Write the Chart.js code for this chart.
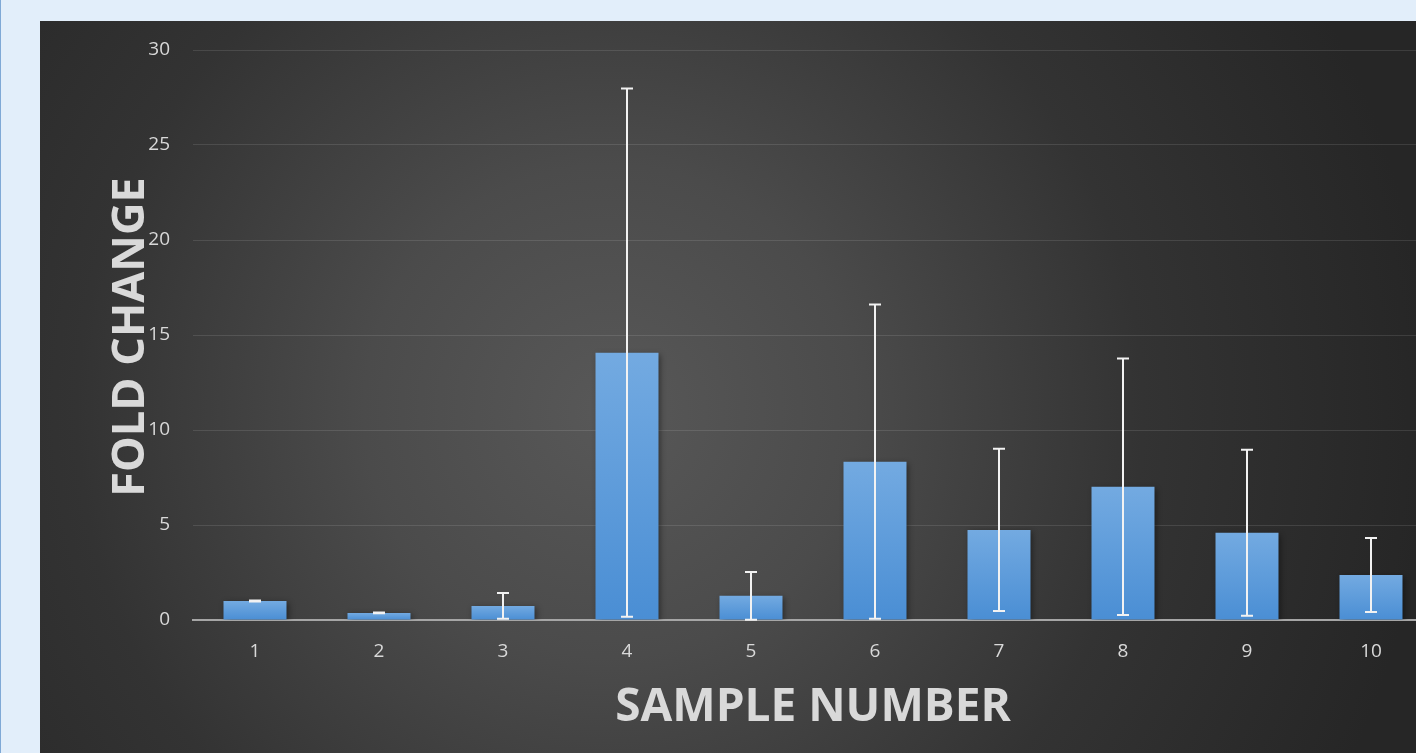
<!DOCTYPE html>
<html>
<head>
<meta charset="utf-8">
<script src="https://cdn.jsdelivr.net/npm/chart.js@4/dist/chart.umd.min.js"></script>
<style>
  html, body { margin: 0; padding: 0; width: 1416px; height: 753px; overflow: hidden; }
  body { background: #e2eefa; border-left: 1px solid #7fa9d6; box-sizing: border-box; position: relative; }
  #panel {
    position: absolute; left: 39px; top: 21px; width: 1400px; height: 732px;
    background: radial-gradient(circle 820px at 570px 390px, #585858 0%, #4b4b4b 30%, #333333 65%, #262626 100%);
  }
  #panel canvas { display: block; }
</style>
</head>
<body>
<div id="panel"><canvas id="c" width="1400" height="732"></canvas></div>
<script>
const categories = ['1', '2', '3', '4', '5', '6', '7', '8', '9', '10'];
const foldChange = [1.0, 0.37, 0.74, 14.07, 1.27, 8.33, 4.74, 7.01, 4.59, 2.37];
const errorValues = [0.03, 0.02, 0.68, 13.9, 1.26, 8.27, 4.27, 6.75, 4.37, 1.95];
const yMin = 0, yMax = 30, yStep = 5;
const xTitle = 'SAMPLE NUMBER';
const yTitle = 'FOLD CHANGE';

const TEXT = '#d9d9d9';
const FONT = "'Open Sans', 'DejaVu Sans', sans-serif";

const shadowPlugin = {
  id: 'barShadow',
  beforeDatasetsDraw(chart) {
    const ctx = chart.ctx;
    ctx.save();
    ctx.shadowColor = 'rgba(0,0,0,0.45)';
    ctx.shadowBlur = 6;
    ctx.shadowOffsetX = 2;
    ctx.shadowOffsetY = 2;
  },
  afterDatasetsDraw(chart) {
    chart.ctx.restore();
  }
};

const errorBarPlugin = {
  id: 'errorBars',
  afterDatasetsDraw(chart) {
    const ctx = chart.ctx;
    const y = chart.scales.y;
    const meta = chart.getDatasetMeta(0);
    ctx.save();
    ctx.strokeStyle = '#f2f2f2';
    ctx.lineWidth = 2;
    meta.data.forEach((bar, i) => {
      const v = foldChange[i], e = errorValues[i];
      const top = y.getPixelForValue(v + e);
      const bot = y.getPixelForValue(Math.max(v - e, 0));
      const x = Math.round(bar.x);
      const half = 6;
      ctx.beginPath();
      ctx.moveTo(x, top); ctx.lineTo(x, bot);
      ctx.moveTo(x - half, top); ctx.lineTo(x + half, top);
      ctx.moveTo(x - half, bot); ctx.lineTo(x + half, bot);
      ctx.stroke();
    });
    ctx.restore();
  }
};

const axisTitlePlugin = {
  id: 'axisTitles',
  afterDraw(chart) {
    const ctx = chart.ctx;
    const a = chart.chartArea;
    ctx.save();
    ctx.fillStyle = TEXT;
    ctx.textAlign = 'center';
    ctx.textBaseline = 'middle';
    ctx.font = "bold 46px " + FONT;
    ctx.fillText(xTitle, (a.left + a.right) / 2, a.bottom + 88);
    ctx.font = "bold 45px " + FONT;
    ctx.translate(91, (a.top + a.bottom) / 2 + 2);
    ctx.rotate(-Math.PI / 2);
    ctx.fillText(yTitle, 0, 0);
    ctx.restore();
  }
};

function barGradient(context) {
  const chart = context.chart;
  if (!chart.chartArea || context.dataIndex === undefined) return '#5b9bd5';
  const y = chart.scales.y;
  const v = foldChange[context.dataIndex];
  const top = y.getPixelForValue(v);
  const bot = y.getPixelForValue(0);
  if (!isFinite(top) || !isFinite(bot) || top === bot) return '#5b9bd5';
  const g = chart.ctx.createLinearGradient(0, top, 0, bot);
  g.addColorStop(0, '#73aae1');
  g.addColorStop(1, '#4a8ed4');
  return g;
}

new Chart(document.getElementById('c'), {
  type: 'bar',
  data: {
    labels: categories,
    datasets: [{
      data: foldChange,
      backgroundColor: barGradient,
      borderWidth: 0,
      barPercentage: 0.508,
      categoryPercentage: 1.0
    }]
  },
  options: {
    responsive: false,
    animation: false,
    events: [],
    layout: { padding: { top: 29, right: 7, left: 0, bottom: 0 } },
    plugins: { legend: { display: false }, tooltip: { enabled: false } },
    scales: {
      x: {
        afterFit(scale) { scale.height = 133; },
        grid: { display: false, drawTicks: false },
        border: { display: true, color: '#a6a6a6', width: 2 },
        ticks: { color: TEXT, font: { family: FONT, size: 19 }, padding: 20 }
      },
      y: {
        min: yMin, max: yMax,
        afterFit(scale) { scale.width = 153; scale.paddingTop = 0; scale.paddingBottom = 0; },
        grid: { color: 'rgba(255,255,255,0.11)', lineWidth: 1, drawTicks: false },
        border: { display: false },
        ticks: { stepSize: yStep, color: TEXT, font: { family: FONT, size: 19 }, padding: 23 }
      }
    }
  },
  plugins: [shadowPlugin, errorBarPlugin, axisTitlePlugin]
});
</script>
</body>
</html>
